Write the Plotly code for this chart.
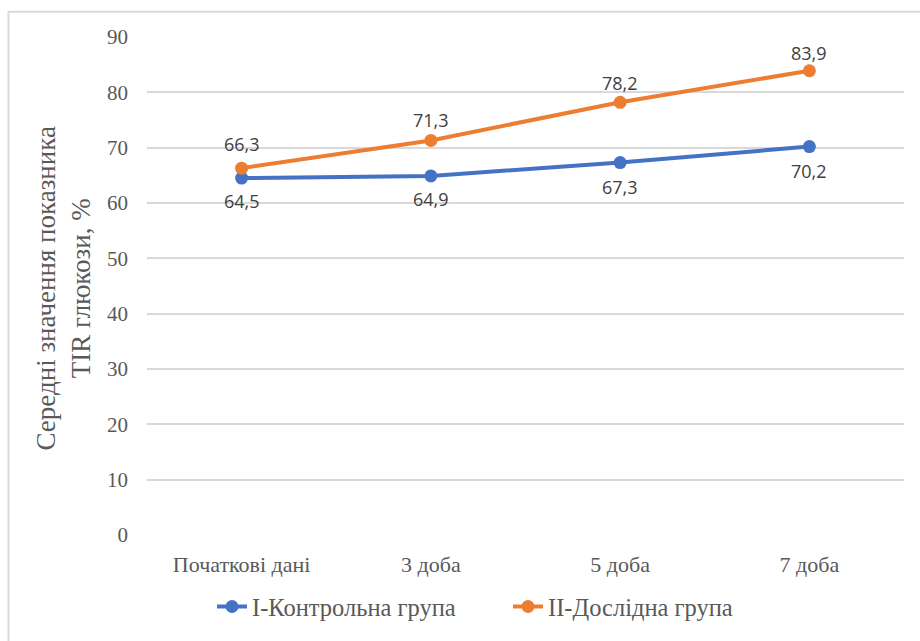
import plotly.graph_objects as go

categories = ["Початкові дані", "3 доба", "5 доба", "7 доба"]
control = [64.5, 64.9, 67.3, 70.2]
experimental = [66.3, 71.3, 78.2, 83.9]
labels_control = ["64,5", "64,9", "67,3", "70,2"]
labels_exp = ["66,3", "71,3", "78,2", "83,9"]

# label pixel offsets (style)
shift_control = [-23, -23, -24, -24]
shift_exp = [24, 20, 19, 18]

W, H = 920, 641
L, R, T, B = 147, 16, 37, 103
pw, ph = W - L - R, H - T - B
SERIF = "Liberation Serif"
SANS = "Open Sans"

def px(x):
    return (x - L) / pw

def py(y):
    return (H - B - y) / ph

fig = go.Figure()
fig.add_trace(go.Scatter(
    x=categories, y=control, mode="lines+markers",
    name="I-Контрольна група",
    line=dict(color="#4472C4", width=4),
    marker=dict(size=13, color="#4472C4"),
))
fig.add_trace(go.Scatter(
    x=categories, y=experimental, mode="lines+markers",
    name="II-Дослідна група",
    line=dict(color="#ED7D31", width=4),
    marker=dict(size=13, color="#ED7D31"),
))
for ys, labs, shifts in [(control, labels_control, shift_control),
                         (experimental, labels_exp, shift_exp)]:
    for xv, yv, lab, s in zip(categories, ys, labs, shifts):
        fig.add_annotation(x=xv, y=yv, text=lab, showarrow=False, yshift=s,
                           font=dict(family=SANS, size=18, color="#404040"))

fig.update_layout(
    width=W, height=H,
    margin=dict(l=L, r=R, t=T, b=B),
    paper_bgcolor="white", plot_bgcolor="white",
    showlegend=True,
    legend=dict(orientation="h", x=px(212), xanchor="left", y=py(610), yanchor="middle",
                font=dict(family=SERIF, size=24.5, color="#595959"),
                entrywidth=251, entrywidthmode="pixels", traceorder="normal"),
    font=dict(family=SERIF, color="#595959"),
)
fig.update_xaxes(
    type="category", range=[-0.5, 3.5], showgrid=False, showline=False, zeroline=False,
    ticks="", tickfont=dict(family=SERIF, size=22, color="#595959"),
    ticklabelstandoff=14,
)
fig.update_yaxes(
    range=[0, 90], dtick=10, showgrid=True, gridcolor="#D9D9D9", gridwidth=1.5,
    zeroline=False, showline=False, ticks="",
    tickfont=dict(family=SERIF, size=21, color="#595959"),
    ticklabelstandoff=18,
)
fig.add_annotation(
    x=px(63), y=py(290), xref="paper", yref="paper",
    text="Середні значення показника<br>TIR глюкози, %", showarrow=False,
    textangle=-90, font=dict(family=SERIF, size=27, color="#595959"),
    xanchor="center", yanchor="middle",
)
fig.add_shape(type="path", xref="paper", yref="paper",
              path=f"M {px(8.5)} {py(645)} L {px(8.5)} {py(11.5)} L {px(925)} {py(11.5)}",
              line=dict(color="#D9D9D9", width=2))

fig.write_html("out.html")
